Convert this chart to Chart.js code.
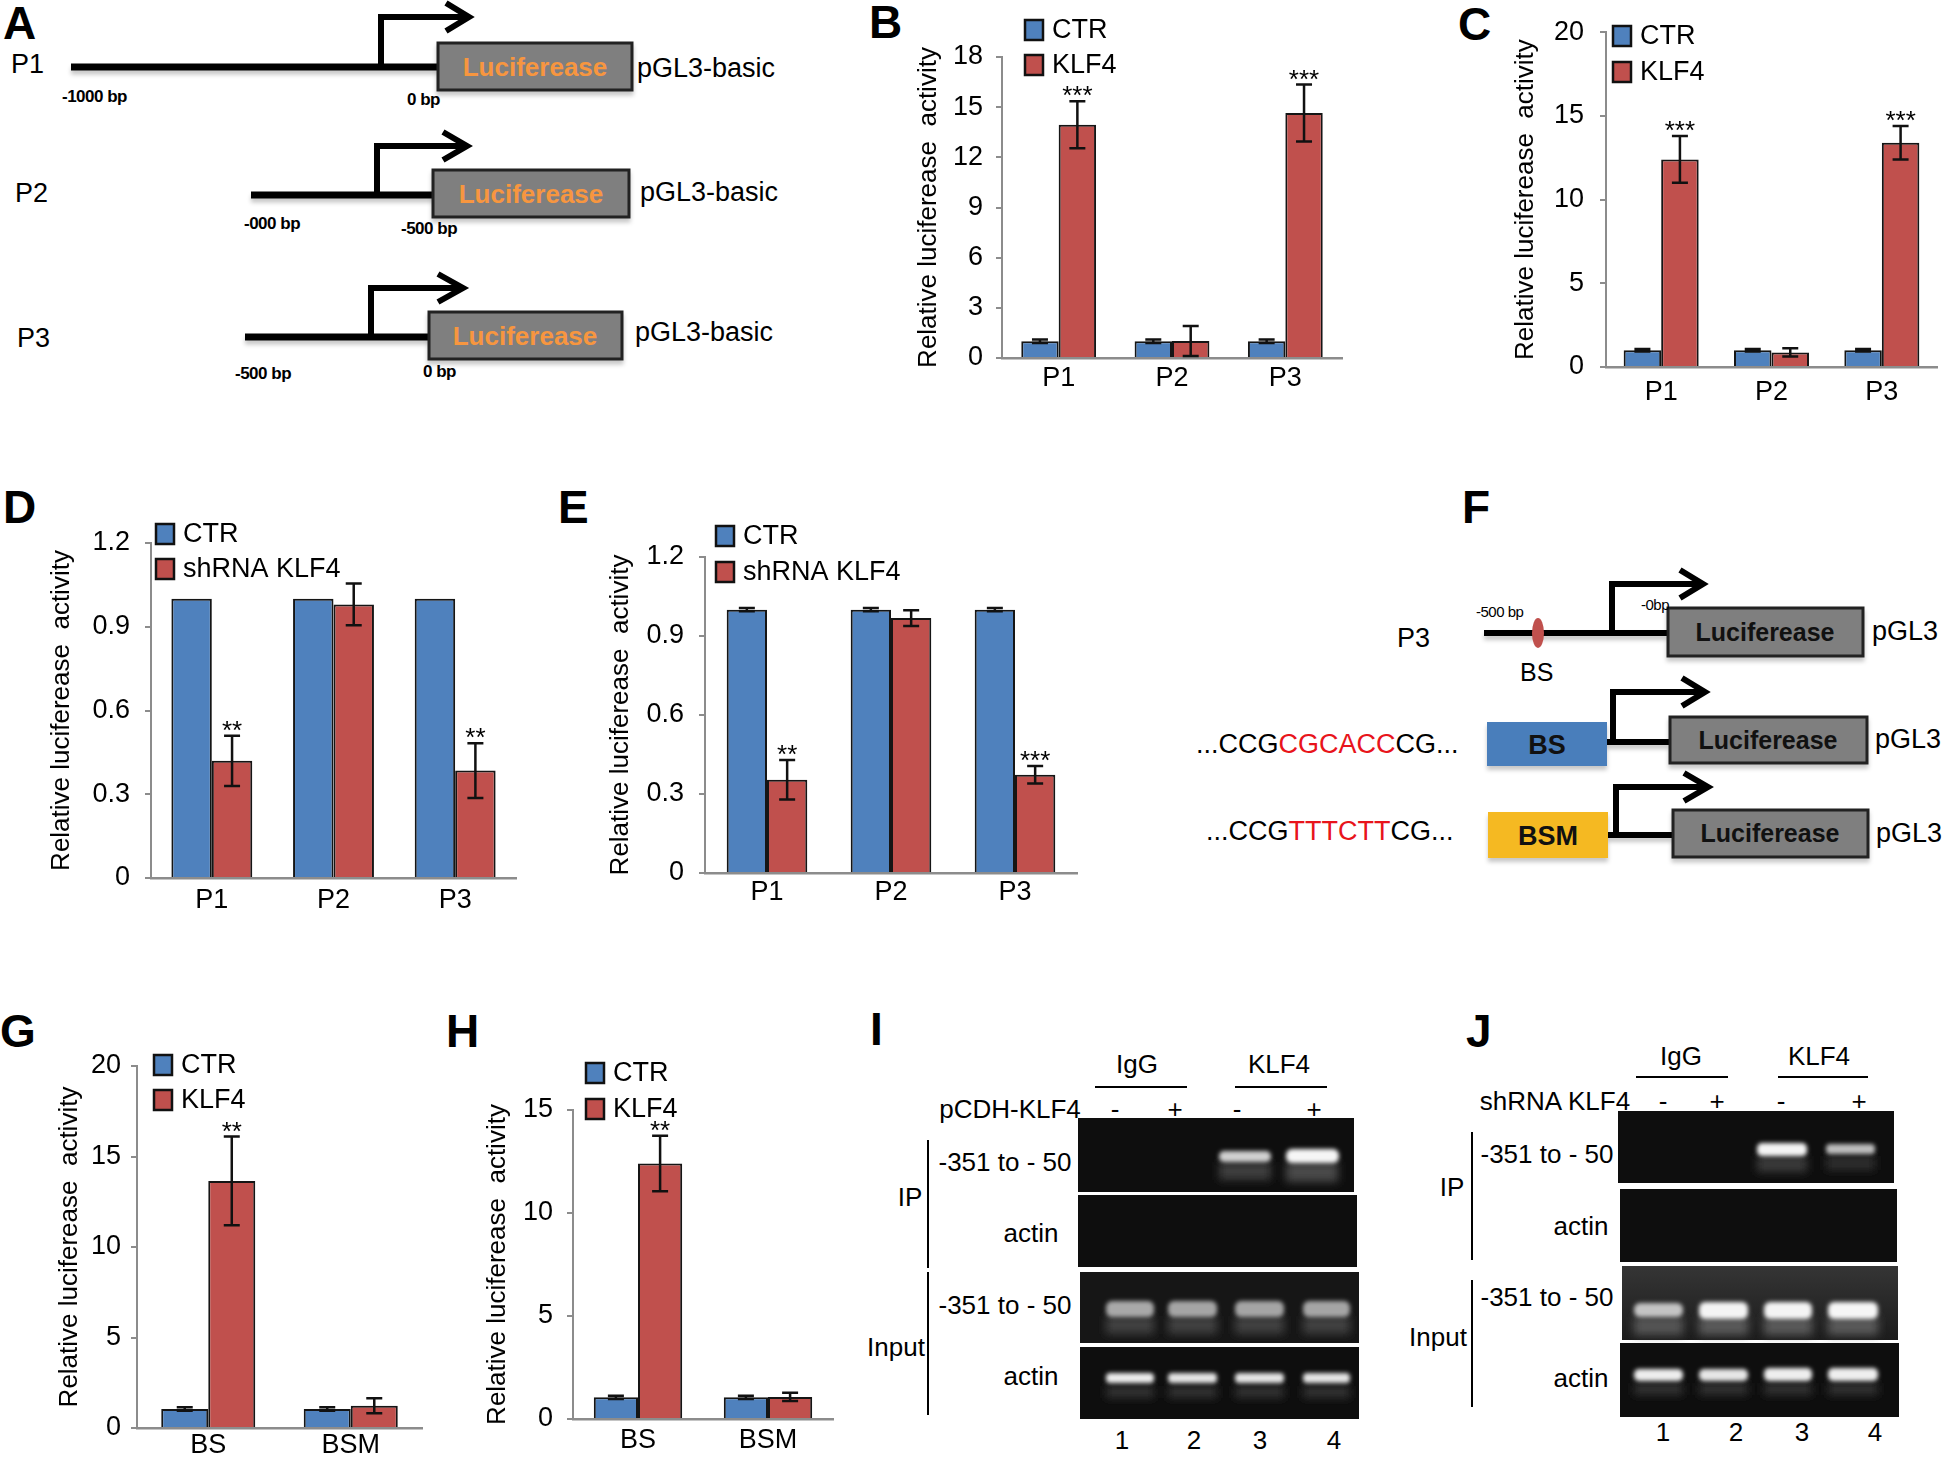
<!DOCTYPE html>
<html>
<head>
<meta charset="utf-8">
<script src="https://cdn.jsdelivr.net/npm/chart.js@4.4.1/dist/chart.umd.min.js"></script>
<style>
html, body { margin: 0; padding: 0; background: #fff; }
#page { position: relative; width: 1946px; height: 1458px; overflow: hidden; background: #fff; }
#page canvas { position: absolute; }
#art { position: absolute; left: 0; top: 0; }
</style>
</head>
<body>
<div id="page">
<svg id="art" width="1946" height="1458" font-family="'Liberation Sans', Arial, sans-serif">
  <defs>
    <filter id="shadow" x="-5%" y="-30%" width="110%" height="180%"><feDropShadow dx="0" dy="4" stdDeviation="2" flood-color="#000" flood-opacity="0.22"/></filter>
    <filter id="b2" x="-20%" y="-80%" width="140%" height="260%"><feGaussianBlur stdDeviation="2"/></filter>
    <filter id="b4" x="-20%" y="-80%" width="140%" height="260%"><feGaussianBlur stdDeviation="4"/></filter>
    <linearGradient id="gelLight" x1="0" y1="0" x2="0" y2="1"><stop offset="0" stop-color="#353535"/><stop offset="1" stop-color="#1c1c1c"/></linearGradient>
  </defs>

  <!-- panel letters -->
  <g font-weight="bold" font-size="46" fill="#000">
    <text x="3" y="39">A</text>
    <text x="869" y="38">B</text>
    <text x="1458" y="40">C</text>
    <text x="3" y="523">D</text>
    <text x="558" y="523">E</text>
    <text x="1462" y="523">F</text>
    <text x="0" y="1047">G</text>
    <text x="446" y="1047">H</text>
    <text x="870" y="1045">I</text>
    <text x="1466" y="1047">J</text>
  </g>

  <!-- A: promoter constructs -->
  <g filter="url(#shadow)" stroke="#000" stroke-width="7">
    <line x1="71" y1="67" x2="438" y2="67"/>
    <line x1="251" y1="195" x2="433" y2="195"/>
    <line x1="245" y1="337" x2="429" y2="337"/>
  </g>
  <g fill="none" stroke="#000" stroke-width="6">
    <path d="M381,65 V17 H467"/><path d="M446,3 L469,17 L446,31"/>
    <path d="M377,193 V146 H465"/><path d="M443,132 L467,146 L443,160"/>
    <path d="M371,335 V288 H461"/><path d="M438,274 L463,288 L438,302"/>
  </g>
  <g fill="#7f7f7f" stroke="#222" stroke-width="3" filter="url(#shadow)">
    <rect x="438" y="43" width="194" height="47"/>
    <rect x="433" y="170" width="196" height="47"/>
    <rect x="429" y="312" width="193" height="47"/>
  </g>
  <g font-weight="bold" font-size="26" fill="#f7963f" text-anchor="middle">
    <text x="535" y="76">Luciferease</text>
    <text x="531" y="203">Luciferease</text>
    <text x="525" y="345">Luciferease</text>
  </g>
  <g font-size="27" fill="#000">
    <text x="11" y="73">P1</text>
    <text x="15" y="202">P2</text>
    <text x="17" y="347">P3</text>
    <text x="637" y="77">pGL3-basic</text>
    <text x="640" y="201">pGL3-basic</text>
    <text x="635" y="341">pGL3-basic</text>
  </g>
  <g font-weight="bold" font-size="17" fill="#000" letter-spacing="-0.5">
    <text x="62" y="102">-1000 bp</text>
    <text x="407" y="105">0 bp</text>
    <text x="244" y="229">-000 bp</text>
    <text x="401" y="234">-500 bp</text>
    <text x="235" y="379">-500 bp</text>
    <text x="423" y="377">0 bp</text>
  </g>

  <!-- F: binding site constructs -->
  <g filter="url(#shadow)">
    <line x1="1484" y1="633" x2="1668" y2="633" stroke="#000" stroke-width="6"/>
    <line x1="1607" y1="742" x2="1670" y2="742" stroke="#000" stroke-width="6"/>
    <line x1="1608" y1="835" x2="1673" y2="835" stroke="#000" stroke-width="6"/>
    <rect x="1487" y="722" width="120" height="44" fill="#4a7ebb"/>
    <rect x="1488" y="812" width="120" height="46" fill="#f5b922"/>
    <rect x="1668" y="608" width="195" height="48" fill="#7f7f7f" stroke="#222" stroke-width="3"/>
    <rect x="1670" y="717" width="197" height="46" fill="#7f7f7f" stroke="#222" stroke-width="3"/>
    <rect x="1673" y="810" width="195" height="47" fill="#7f7f7f" stroke="#222" stroke-width="3"/>
  </g>
  <ellipse cx="1538" cy="633" rx="6" ry="15" fill="#c0504d"/>
  <g fill="none" stroke="#000" stroke-width="6">
    <path d="M1612,631 V584 H1700"/><path d="M1680,570 L1703,584 L1680,598"/>
    <path d="M1613,740 V692 H1702"/><path d="M1682,678 L1705,692 L1682,706"/>
    <path d="M1616,833 V787 H1705"/><path d="M1684,773 L1708,787 L1684,801"/>
  </g>
  <g font-weight="bold" font-size="25" fill="#111" text-anchor="middle">
    <text x="1765" y="641">Luciferease</text>
    <text x="1768" y="749">Luciferease</text>
    <text x="1770" y="842">Luciferease</text>
    <text x="1547" y="754" font-size="27">BS</text>
    <text x="1548" y="845" font-size="27">BSM</text>
  </g>
  <g font-size="27" fill="#000">
    <text x="1397" y="647">P3</text>
    <text x="1872" y="640">pGL3</text>
    <text x="1875" y="748">pGL3</text>
    <text x="1876" y="842">pGL3</text>
    <text x="1520" y="681" font-size="25">BS</text>
    <text x="1196" y="753">...CCG<tspan fill="#e8141b">CGCACC</tspan>CG...</text>
    <text x="1206" y="840">...CCG<tspan fill="#e8141b">TTTCTT</tspan>CG...</text>
  </g>
  <g font-size="15" fill="#000" letter-spacing="-0.5">
    <text x="1476" y="617">-500 bp</text>
    <text x="1641" y="610">-0bp</text>
  </g>

  <!-- I: ChIP gel -->
  <g font-size="26" fill="#000" text-anchor="middle">
    <text x="1137" y="1073">IgG</text>
    <text x="1279" y="1073">KLF4</text>
    <text x="1010" y="1118">pCDH-KLF4</text>
    <text x="1115" y="1118">-</text>
    <text x="1175" y="1118">+</text>
    <text x="1237" y="1118">-</text>
    <text x="1314" y="1118">+</text>
    <text x="1005" y="1171">-351 to - 50</text>
    <text x="1031" y="1242">actin</text>
    <text x="1005" y="1314">-351 to - 50</text>
    <text x="1031" y="1385">actin</text>
    <text x="910" y="1206">IP</text>
    <text x="896" y="1356">Input</text>
    <text x="1122" y="1449">1</text>
    <text x="1194" y="1449">2</text>
    <text x="1260" y="1449">3</text>
    <text x="1334" y="1449">4</text>
  </g>
  <g stroke="#000" stroke-width="2">
    <line x1="1095" y1="1087" x2="1187" y2="1087"/>
    <line x1="1235" y1="1087" x2="1327" y2="1087"/>
    <line x1="928" y1="1140" x2="928" y2="1268"/>
    <line x1="928" y1="1272" x2="928" y2="1415"/>
  </g>
  <g fill="#0e0e0e">
    <rect x="1078" y="1118" width="276" height="74"/>
    <rect x="1078" y="1195" width="279" height="72"/>
    <rect x="1080" y="1272" width="279" height="71" fill="#161616"/>
    <rect x="1080" y="1347" width="279" height="72"/>
  </g>
  <g filter="url(#b4)">
    <rect x="1219" y="1162" width="52" height="18" fill="#3c3c3c"/>
    <rect x="1286" y="1162" width="52" height="20" fill="#4a4a4a"/>
    <rect x="1106" y="1316" width="48" height="18" fill="#3f3f3f"/>
    <rect x="1168" y="1316" width="49" height="18" fill="#3f3f3f"/>
    <rect x="1235" y="1316" width="49" height="18" fill="#3f3f3f"/>
    <rect x="1303" y="1316" width="47" height="18" fill="#3f3f3f"/>
    <rect x="1106" y="1386" width="48" height="12" fill="#333"/>
    <rect x="1168" y="1386" width="49" height="12" fill="#333"/>
    <rect x="1235" y="1386" width="49" height="12" fill="#333"/>
    <rect x="1303" y="1386" width="47" height="12" fill="#333"/>
  </g>
  <g filter="url(#b2)">
    <rect x="1219" y="1151" width="52" height="11" rx="5" fill="#d0d0d0"/>
    <rect x="1286" y="1149" width="53" height="14" rx="6" fill="#f6f6f6"/>
    <rect x="1106" y="1301" width="48" height="16" rx="6" fill="#a9a9a9"/>
    <rect x="1168" y="1301" width="49" height="16" rx="6" fill="#a5a5a5"/>
    <rect x="1235" y="1301" width="49" height="16" rx="6" fill="#a5a5a5"/>
    <rect x="1303" y="1301" width="47" height="16" rx="6" fill="#a5a5a5"/>
    <rect x="1106" y="1373" width="48" height="10" rx="4" fill="#ececec"/>
    <rect x="1168" y="1373" width="49" height="10" rx="4" fill="#e4e4e4"/>
    <rect x="1235" y="1373" width="49" height="10" rx="4" fill="#e4e4e4"/>
    <rect x="1303" y="1373" width="47" height="10" rx="4" fill="#e4e4e4"/>
  </g>

  <!-- J: ChIP gel after knockdown -->
  <g font-size="26" fill="#000" text-anchor="middle">
    <text x="1681" y="1065">IgG</text>
    <text x="1819" y="1065">KLF4</text>
    <text x="1555" y="1110">shRNA KLF4</text>
    <text x="1663" y="1110">-</text>
    <text x="1717" y="1110">+</text>
    <text x="1781" y="1110">-</text>
    <text x="1859" y="1110">+</text>
    <text x="1547" y="1163">-351 to - 50</text>
    <text x="1581" y="1235">actin</text>
    <text x="1547" y="1306">-351 to - 50</text>
    <text x="1581" y="1387">actin</text>
    <text x="1452" y="1196">IP</text>
    <text x="1438" y="1346">Input</text>
    <text x="1663" y="1441">1</text>
    <text x="1736" y="1441">2</text>
    <text x="1802" y="1441">3</text>
    <text x="1875" y="1441">4</text>
  </g>
  <g stroke="#000" stroke-width="2">
    <line x1="1636" y1="1077" x2="1728" y2="1077"/>
    <line x1="1778" y1="1077" x2="1868" y2="1077"/>
    <line x1="1472" y1="1132" x2="1472" y2="1260"/>
    <line x1="1472" y1="1280" x2="1472" y2="1407"/>
  </g>
  <g fill="#0e0e0e">
    <rect x="1618" y="1111" width="276" height="72"/>
    <rect x="1620" y="1189" width="277" height="73"/>
    <rect x="1622" y="1266" width="276" height="74" fill="url(#gelLight)"/>
    <rect x="1620" y="1343" width="279" height="74"/>
  </g>
  <g filter="url(#b4)">
    <rect x="1757" y="1156" width="50" height="16" fill="#3a3a3a"/>
    <rect x="1826" y="1156" width="49" height="14" fill="#2e2e2e"/>
    <rect x="1634" y="1317" width="49" height="18" fill="#555"/>
    <rect x="1699" y="1317" width="49" height="18" fill="#5a5a5a"/>
    <rect x="1764" y="1317" width="48" height="18" fill="#5a5a5a"/>
    <rect x="1828" y="1317" width="50" height="18" fill="#5a5a5a"/>
    <rect x="1634" y="1383" width="49" height="12" fill="#333"/>
    <rect x="1699" y="1383" width="49" height="12" fill="#333"/>
    <rect x="1764" y="1383" width="48" height="12" fill="#333"/>
    <rect x="1828" y="1383" width="50" height="12" fill="#333"/>
  </g>
  <g filter="url(#b2)">
    <rect x="1757" y="1143" width="50" height="13" rx="5" fill="#f4f4f4"/>
    <rect x="1826" y="1144" width="49" height="10" rx="4" fill="#bdbdbd"/>
    <rect x="1634" y="1303" width="49" height="14" rx="6" fill="#c4c4c4"/>
    <rect x="1699" y="1302" width="49" height="17" rx="6" fill="#f4f4f4"/>
    <rect x="1764" y="1302" width="48" height="17" rx="6" fill="#f4f4f4"/>
    <rect x="1828" y="1302" width="50" height="17" rx="6" fill="#f6f6f6"/>
    <rect x="1634" y="1369" width="49" height="12" rx="5" fill="#ededed"/>
    <rect x="1699" y="1369" width="49" height="12" rx="5" fill="#e6e6e6"/>
    <rect x="1764" y="1368" width="48" height="13" rx="5" fill="#eeeeee"/>
    <rect x="1828" y="1368" width="50" height="13" rx="5" fill="#eeeeee"/>
  </g>
</svg>
</div>

<script>
// categorias y series
const promoterLabels = ['P1', 'P2', 'P3'];
const siteLabels = ['BS', 'BSM'];
const yTitle = 'Relative luciferease  activity';

// B: sobreexpresion de KLF4
const bCtr = [1.0, 1.0, 1.0];
const bCtrErr = [0.1, 0.1, 0.1];
const bKlf4 = [13.95, 1.02, 14.65];
const bKlf4Err = [1.4, 0.9, 1.7];
const bStars = ['***', '', '***'];
const bTicks = [0, 3, 6, 9, 12, 15, 18];

// C
const cCtr = [1.0, 1.0, 1.0];
const cCtrErr = [0.08, 0.08, 0.08];
const cKlf4 = [12.4, 0.87, 13.4];
const cKlf4Err = [1.4, 0.25, 1.0];
const cStars = ['***', '', '***'];
const cTicks = [0, 5, 10, 15, 20];

// D: shRNA KLF4
const dCtr = [1.0, 1.0, 1.0];
const dCtrErr = [0, 0, 0];
const dSh = [0.42, 0.98, 0.385];
const dShErr = [0.09, 0.075, 0.098];
const dStars = ['**', '', '**'];
const dTicks = [0, 0.3, 0.6, 0.9, 1.2];

// E
const eCtr = [1.0, 1.0, 1.0];
const eCtrErr = [0.006, 0.006, 0.006];
const eSh = [0.354, 0.968, 0.373];
const eShErr = [0.075, 0.03, 0.033];
const eStars = ['**', '', '***'];
const eTicks = [0, 0.3, 0.6, 0.9, 1.2];

// G: sitio de union vs mutante
const gCtr = [1.05, 1.05];
const gCtrErr = [0.1, 0.1];
const gKlf4 = [13.65, 1.23];
const gKlf4Err = [2.45, 0.42];
const gStars = ['**', ''];
const gTicks = [0, 5, 10, 15, 20];

// H
const hCtr = [1.05, 1.05];
const hCtrErr = [0.08, 0.08];
const hKlf4 = [12.4, 1.07];
const hKlf4Err = [1.35, 0.2];
const hStars = ['**', ''];
const hTicks = [0, 5, 10, 15];

const FONT = "'Liberation Sans', Arial, sans-serif";
const BLUE = '#4f81bd', RED = '#c0504d', AXIS = '#8c8c8c', EDGE = '#151515';
Chart.defaults.font.family = FONT;
Chart.defaults.color = '#000';

// barras de error y asteriscos
const errorBars = {
	id: 'errorBars',
	afterDatasetsDraw(chart) {
		const ctx = chart.ctx, y = chart.scales.y;
		chart.data.datasets.forEach((ds, i) => {
			chart.getDatasetMeta(i).data.forEach((bar, j) => {
				const e = ds.err[j], v = ds.data[j];
				const yTop = y.getPixelForValue(v + e);
				ctx.save();
				if (e > 0) {
					const yBot = y.getPixelForValue(v - e);
					ctx.strokeStyle = '#111';
					ctx.lineWidth = 2.5;
					ctx.beginPath();
					ctx.moveTo(bar.x, yTop); ctx.lineTo(bar.x, yBot);
					ctx.moveTo(bar.x - 8, yTop); ctx.lineTo(bar.x + 8, yTop);
					ctx.moveTo(bar.x - 8, yBot); ctx.lineTo(bar.x + 8, yBot);
					ctx.stroke();
				}
				if (ds.stars && ds.stars[j]) {
					ctx.fillStyle = '#000';
					ctx.font = '26px ' + FONT;
					ctx.textAlign = 'center';
					ctx.textBaseline = 'alphabetic';
					ctx.fillText(ds.stars[j], bar.x, yTop + 3);
				}
				ctx.restore();
			});
		});
	}
};

// leyenda con cajas como en el original
const boxLegend = {
	id: 'boxLegend',
	afterDraw(chart, args, opts) {
		const ctx = chart.ctx;
		chart.data.datasets.forEach((ds, i) => {
			const x = opts.x, yc = opts.y[i];
			ctx.save();
			ctx.fillStyle = ds.backgroundColor;
			ctx.fillRect(x, yc - 10, 18, 20);
			ctx.strokeStyle = '#111';
			ctx.lineWidth = 2.5;
			ctx.strokeRect(x, yc - 10, 18, 20);
			ctx.fillStyle = '#000';
			ctx.font = '27px ' + FONT;
			ctx.textBaseline = 'middle';
			ctx.fillText(ds.label, x + 27, yc + 1);
			ctx.restore();
		});
	}
};

let barPanel = (s) => {
	const left = Math.round(s.titleX - 16);
	const top = s.canvasTop;
	const width = s.right + 6 - left;
	const height = s.zero + 40 - top;
	const cv = document.createElement('canvas');
	cv.width = width;
	cv.height = height;
	cv.style.left = left + 'px';
	cv.style.top = top + 'px';
	document.getElementById('page').appendChild(cv);

	const serie = (label, data, err, color, stars) => ({
		label, data, err, stars,
		backgroundColor: color,
		borderColor: EDGE,
		borderWidth: 2,
		borderSkipped: 'bottom',
		categoryPercentage: s.catPct,
		barPercentage: 1
	});

	return new Chart(cv, {
		type: 'bar',
		data: {
			labels: s.labels,
			datasets: [
				serie(s.names[0], s.a, s.aErr, BLUE, null),
				serie(s.names[1], s.b, s.bErr, RED, s.stars)
			]
		},
		options: {
			responsive: false,
			animation: false,
			events: [],
			layout: { padding: { top: s.top - top, right: 6, left: 0, bottom: 0 } },
			plugins: {
				legend: { display: false },
				tooltip: { enabled: false },
				boxLegend: { x: s.legendX - left, y: s.legendY.map(v => v - top) }
			},
			scales: {
				x: {
					grid: { display: false, drawTicks: false },
					border: { color: AXIS, width: 2.5 },
					ticks: { font: { size: 27 }, color: '#000', padding: s.catPad, maxRotation: 0, autoSkip: false },
					afterFit: sc => { sc.height = height - (s.zero - top); }
				},
				y: {
					min: 0,
					max: s.ticks[s.ticks.length - 1],
					afterBuildTicks: sc => { sc.ticks = s.ticks.map(v => ({ value: v })); },
					ticks: { font: { size: 27 }, color: '#000', padding: s.tickPad, callback: v => String(v) },
					grid: { drawOnChartArea: false, drawTicks: true, tickLength: 6, color: AXIS, lineWidth: 2 },
					border: { color: AXIS, width: 2 },
					title: { display: true, text: yTitle, font: { size: 26 }, color: '#000', padding: { top: 0, bottom: 0 } },
					afterFit: sc => { sc.width = s.axisX - left; }
				}
			}
		},
		plugins: [errorBars, boxLegend]
	});
};

barPanel({ labels: promoterLabels, names: ['CTR', 'KLF4'], a: bCtr, aErr: bCtrErr, b: bKlf4, bErr: bKlf4Err, stars: bStars, ticks: bTicks,
	titleX: 929, axisX: 1002, top: 57, zero: 358, right: 1342, canvasTop: 0, catPct: 0.66, tickPad: 13, catPad: 4, legendX: 1025, legendY: [30, 65] });
barPanel({ labels: promoterLabels, names: ['CTR', 'KLF4'], a: cCtr, aErr: cCtrErr, b: cKlf4, bErr: cKlf4Err, stars: cStars, ticks: cTicks,
	titleX: 1526, axisX: 1606, top: 32, zero: 367, right: 1937, canvasTop: 0, catPct: 0.68, tickPad: 16, catPad: 9, legendX: 1613, legendY: [36, 72] });
barPanel({ labels: promoterLabels, names: ['CTR', 'shRNA KLF4'], a: dCtr, aErr: dCtrErr, b: dSh, bErr: dShErr, stars: dStars, ticks: dTicks,
	titleX: 62, axisX: 151, top: 543, zero: 878, right: 516, canvasTop: 505, catPct: 0.665, tickPad: 15, catPad: 6, legendX: 156, legendY: [534, 569] });
barPanel({ labels: promoterLabels, names: ['CTR', 'shRNA KLF4'], a: eCtr, aErr: eCtrErr, b: eSh, bErr: eShErr, stars: eStars, ticks: eTicks,
	titleX: 621, axisX: 705, top: 557, zero: 873, right: 1077, canvasTop: 515, catPct: 0.65, tickPad: 15, catPad: 3, legendX: 716, legendY: [536, 572] });
barPanel({ labels: siteLabels, names: ['CTR', 'KLF4'], a: gCtr, aErr: gCtrErr, b: gKlf4, bErr: gKlf4Err, stars: gStars, ticks: gTicks,
	titleX: 70, axisX: 137, top: 1066, zero: 1428, right: 422, canvasTop: 1035, catPct: 0.66, tickPad: 10, catPad: 1, legendX: 154, legendY: [1065, 1100] });
barPanel({ labels: siteLabels, names: ['CTR', 'KLF4'], a: hCtr, aErr: hCtrErr, b: hKlf4, bErr: hKlf4Err, stars: hStars, ticks: hTicks,
	titleX: 498, axisX: 573, top: 1110, zero: 1419, right: 833, canvasTop: 1045, catPct: 0.68, tickPad: 14, catPad: 5, legendX: 586, legendY: [1073, 1109] });
</script>
</body>
</html>
